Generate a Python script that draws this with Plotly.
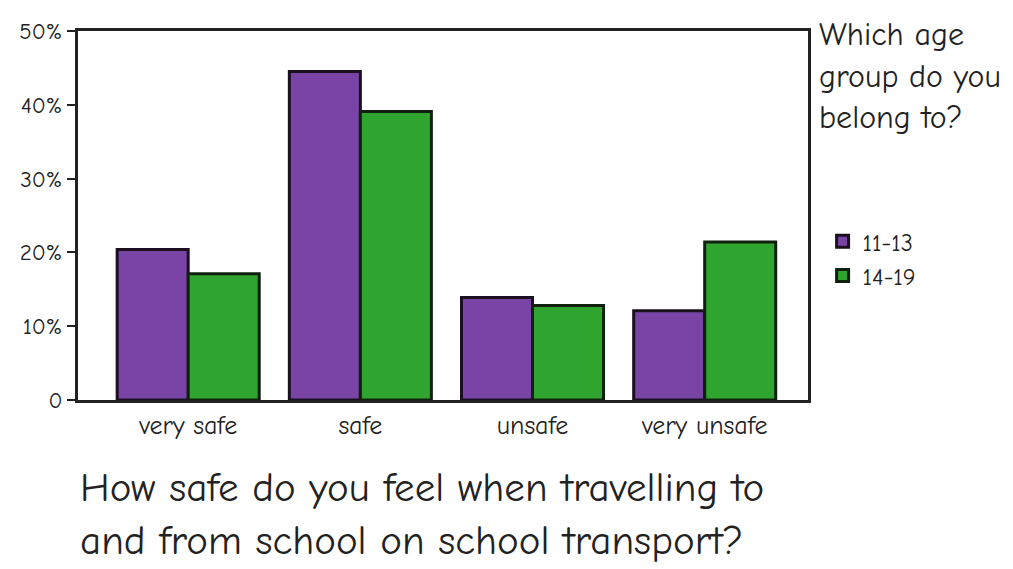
import plotly.graph_objects as go

categories = ["very safe", "safe", "unsafe", "very unsafe"]
age_11_13 = [20.4, 44.5, 13.9, 12.1]
age_14_19 = [17.1, 39.1, 12.8, 21.4]
y_ticks = [0, 10, 20, 30, 40, 50]
y_tick_labels = ["0", "10%", "20%", "30%", "40%", "50%"]
x_title_lines = ["How safe do you feel when travelling to",
                 "and from school on school transport?"]
legend_title = "Which age<br>group do you<br>belong to?"

FONT = "Comic Neue, Lato, Open Sans, sans-serif"

fig = go.Figure()
fig.add_trace(go.Bar(x=categories, y=age_11_13, name="11-13",
                     marker=dict(color="#7A44A6", line=dict(color="#1a1020", width=3))))
fig.add_trace(go.Bar(x=categories, y=age_14_19, name="14-19",
                     marker=dict(color="#2FA52F", line=dict(color="#10200f", width=3))))

annotations = [
    dict(text=legend_title, xref="paper", yref="paper",
         x=1.012, y=1.045, xanchor="left", yanchor="top", align="left",
         showarrow=False, font=dict(size=32, family=FONT, color="#222")),
]
for line, ypos in zip(x_title_lines, [-0.236, -0.38]):
    annotations.append(dict(text=line, xref="paper", yref="paper", x=0.0, y=ypos,
                            xanchor="left", yanchor="middle", align="left",
                            showarrow=False,
                            font=dict(size=41, family=FONT, color="#222")))

fig.update_layout(
    width=1013, height=569,
    margin=dict(l=70, r=213, t=10, b=177),
    paper_bgcolor="white", plot_bgcolor="white",
    barmode="group", bargap=0.175, bargroupgap=0,
    font=dict(family=FONT, color="#222"),
    xaxis=dict(range=[-0.64, 3.6], showline=True, linecolor="#222", linewidth=3,
               mirror=True, ticks="", tickfont=dict(size=26), showgrid=False),
    yaxis=dict(range=[0, 50], tickvals=y_ticks, ticktext=y_tick_labels,
               showline=True, linecolor="#222", linewidth=3, mirror=True,
               ticks="outside", ticklen=8, tickwidth=2, tickcolor="#222",
               tickfont=dict(size=23), showgrid=False, zeroline=False),
    legend=dict(x=1.02, y=0.49, xanchor="left", yanchor="top",
                font=dict(size=24), bgcolor="rgba(0,0,0,0)", tracegroupgap=0,
                itemwidth=30),
    annotations=annotations,
)

fig.write_html("out.html")
